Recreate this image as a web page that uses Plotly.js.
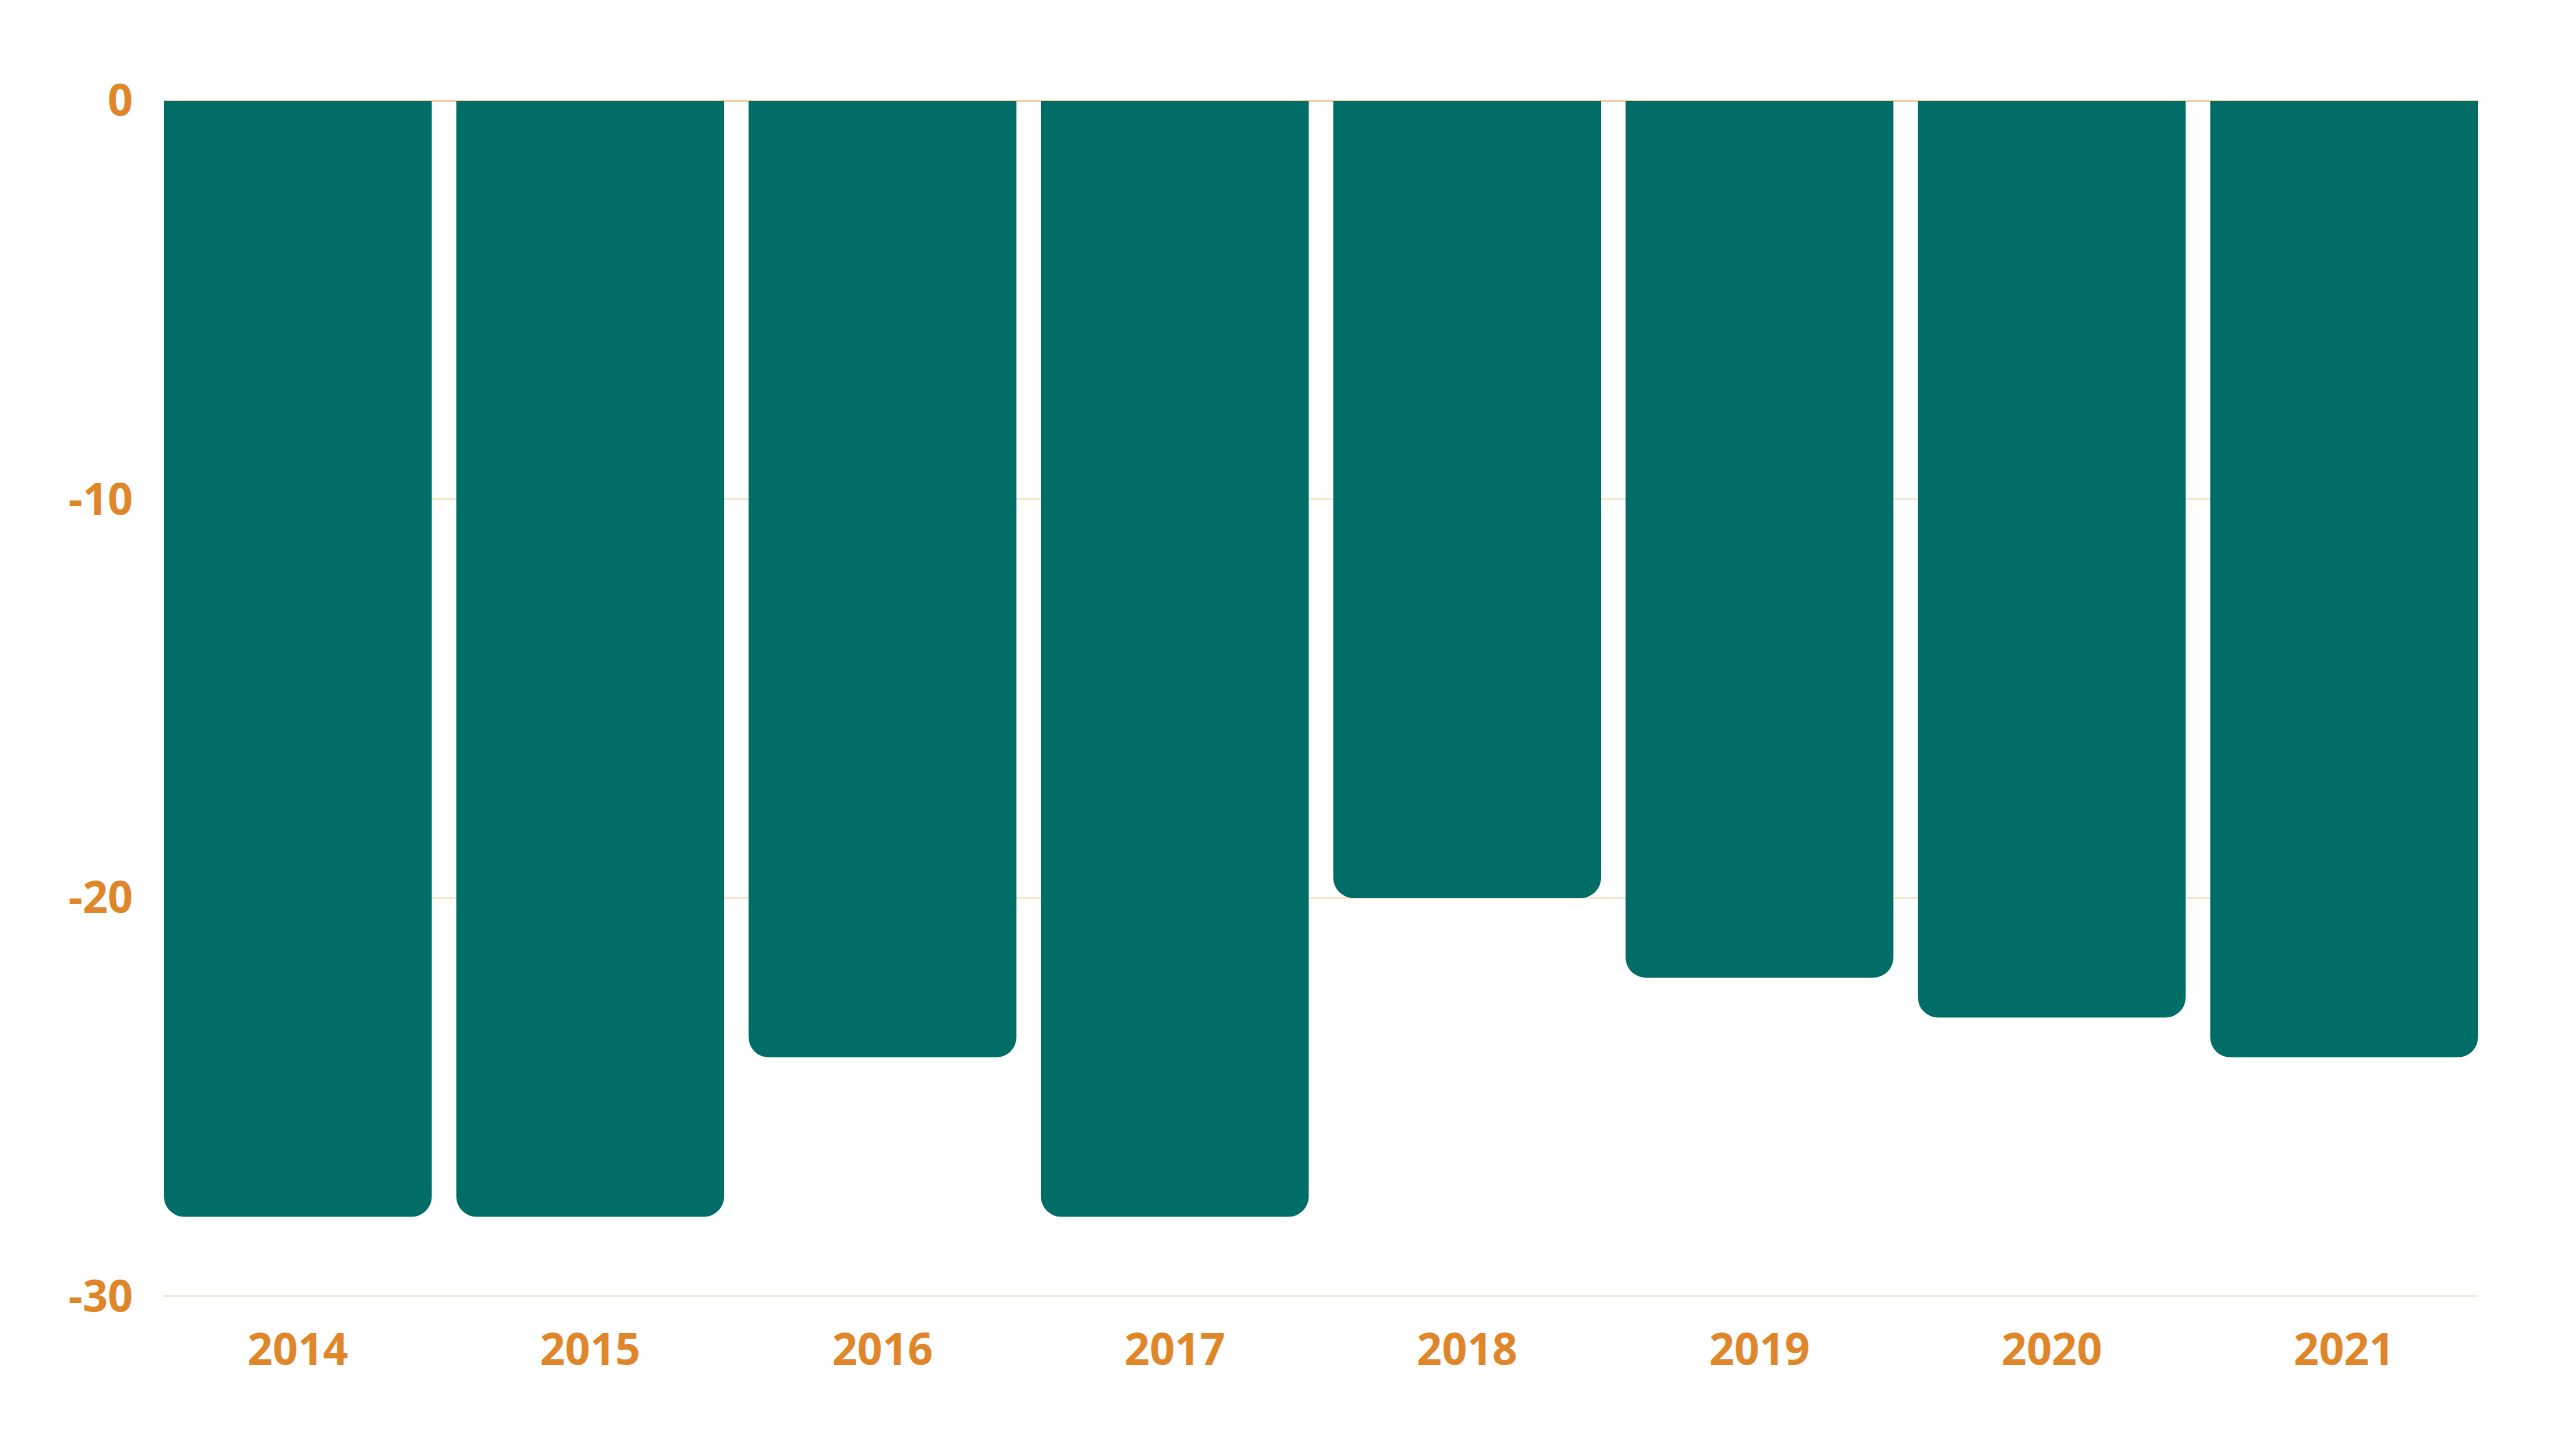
<!DOCTYPE html>
<html>
<head>
<meta charset="utf-8">
<script src="https://cdn.plot.ly/plotly-3.0.1.min.js"></script>
<style>html,body{margin:0;padding:0;background:#fff;}#chart{width:2560px;height:1450px;}</style>
</head>
<body>
<div id="chart"></div>
<script>
const years = ['2014','2015','2016','2017','2018','2019','2020','2021'];
const values = [-28, -28, -24, -28, -20, -22, -23, -24];
const yTicks = [0, -10, -20, -30];

const barColor = '#006e67';
const labelColor = '#e0862a';
const gridColor = '#f8e6cf';
const gap = 0.084;

Plotly.newPlot('chart', [{
  type: 'bar',
  x: years,
  y: values,
  marker: {color: barColor, cornerradius: 20, line: {width: 0}},
  hoverinfo: 'x+y'
}], {
  width: 2560,
  height: 1450,
  margin: {l: 164, r: 82, t: 101, b: 152},
  paper_bgcolor: '#ffffff',
  plot_bgcolor: '#ffffff',
  bargap: gap,
  showlegend: false,
  font: {family: 'Open Sans, sans-serif', color: labelColor},
  xaxis: {
    type: 'category',
    range: [-0.5 + gap / 2, years.length - 0.5 - gap / 2],
    showgrid: false,
    showline: false,
    zeroline: false,
    ticks: '',
    ticklabelstandoff: 22,
    tickfont: {family: 'Open Sans, sans-serif', size: 44, color: labelColor, weight: 'bold'}
  },
  yaxis: {
    range: [-30.04, 0],
    tickvals: yTicks,
    ticktext: yTicks.map(String),
    showgrid: true,
    gridcolor: gridColor,
    gridwidth: 2,
    zeroline: true,
    zerolinecolor: '#f3cfa6',
    zerolinewidth: 2,
    showline: false,
    ticks: '',
    ticklabelstandoff: 30,
    tickfont: {family: 'Open Sans, sans-serif', size: 44, color: labelColor, weight: 'bold'}
  }
}, {displayModeBar: false, staticPlot: true});
</script>
</body>
</html>
